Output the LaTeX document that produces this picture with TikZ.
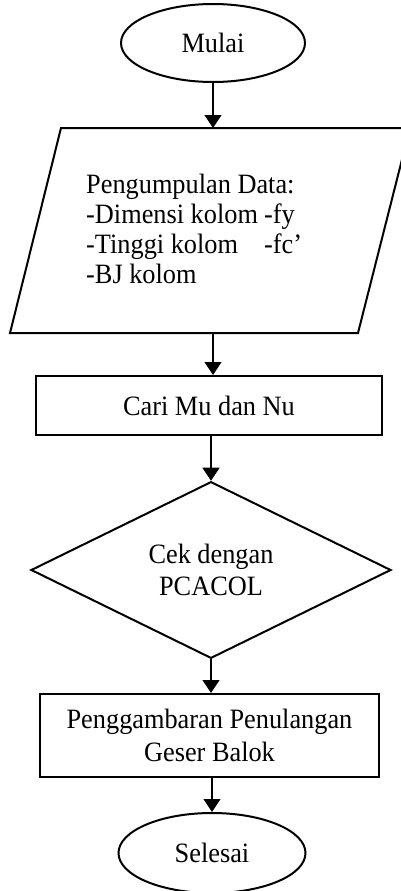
\documentclass[tikz,border=0pt]{standalone}
\usepackage{fontspec}
\setmainfont{Liberation Serif}[FakeStretch=0.94]
\usetikzlibrary{shapes.geometric,arrows.meta}
\begin{document}
\begin{tikzpicture}[x=1pt,y=-1pt,
  every node/.style={font=\fontsize{28}{30}\selectfont},
  shape line/.style={draw=black,line width=2pt},
  terminal/.style={shape line,ellipse,inner sep=0pt,minimum width=184pt,minimum height=78pt},
  process/.style={shape line,rectangle,inner sep=0pt,align=center},
  decision/.style={shape line,diamond,inner sep=0pt,align=center,minimum width=360pt,minimum height=175pt},
  flow/.style={line width=1.2pt,-{Triangle[width=17pt,length=13pt]}}]
  \clip (0,0) rectangle (401,891);
  \fill[white] (0,0) rectangle (401,891);

  % start
  \node[terminal] (mulai) at (213,43) {Mulai};

  % data input (parallelogram)
  \coordinate (d1) at (61,128);
  \coordinate (d2) at (410,128);
  \coordinate (d3) at (358,333);
  \coordinate (d4) at (10,333);
  \draw[shape line,line join=miter] (d1) -- (d2) -- (d3) -- (d4) -- cycle;
  \coordinate (dtop) at (213,128);
  \coordinate (dbot) at (213,333);
  \node[anchor=north west,align=left,inner sep=0pt] (data) at (86,174)
    {Pengumpulan Data:\\
     \makebox[178pt][l]{-Dimensi kolom}-fy\\
     \makebox[178pt][l]{-Tinggi kolom}-fc’\\
     -BJ kolom};

  % processing steps
  \node[process,minimum width=346pt,minimum height=59pt] (cari) at (209,405.5) {Cari Mu dan Nu};
  \node[decision,font=\fontsize{28}{32}\selectfont] (cek) at (211,570) {Cek dengan\\PCACOL};
  \node[process,minimum width=339pt,minimum height=83pt,font=\fontsize{28}{33}\selectfont] (gambar) at (209.5,735.5)
    {Penggambaran Penulangan\\Geser Balok};

  % end
  \node[terminal,minimum width=187pt,minimum height=80pt] (selesai) at (212,853) {Selesai};

  % connectors
  \draw[flow] (mulai.south) -- (dtop);
  \draw[flow] (dbot) -- (dbot |- cari.north);
  \draw[flow] (cari.south -| cek.north) -- (cek.north);
  \draw[flow] (cek.south) -- (cek.south |- gambar.north);
  \draw[flow] (gambar.south -| selesai.north) -- (selesai.north);
\end{tikzpicture}
\end{document}
